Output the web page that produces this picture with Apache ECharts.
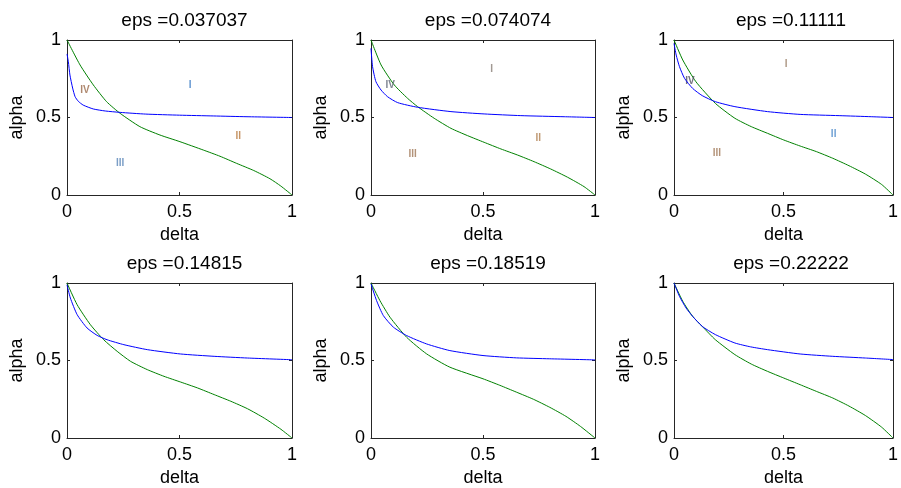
<!DOCTYPE html>
<html>
<head>
<meta charset="utf-8">
<script src="https://cdn.jsdelivr.net/npm/echarts@6/dist/echarts.min.js"></script>
<style>
  html, body { margin: 0; padding: 0; background: #fff; }
  #chart { width: 901px; height: 488px; }
</style>
</head>
<body>
<div id="chart"></div>
<script>
  // panel titles
  var epsLabels = ['0.037037', '0.074074', '0.11111', '0.14815', '0.18519', '0.22222'];

  // blue curves [delta, alpha]
  var blue1 = [[0, 0.91], [0.006, 0.86], [0.013, 0.774], [0.025, 0.69], [0.036, 0.634], [0.05, 0.605],
    [0.072, 0.58], [0.117, 0.555], [0.17, 0.542], [0.236, 0.533], [0.35, 0.522], [0.5, 0.515],
    [0.65, 0.51], [0.8, 0.505], [1, 0.5]];
  var blue2 = [[0, 0.946], [0.007, 0.828], [0.022, 0.731], [0.045, 0.677], [0.074, 0.634], [0.119, 0.596],
    [0.208, 0.566], [0.357, 0.538], [0.505, 0.523], [0.669, 0.512], [0.862, 0.505], [1, 0.5]];
  var blue3 = [[0, 0.978], [0.01, 0.903], [0.025, 0.828], [0.048, 0.753], [0.085, 0.688], [0.129, 0.641],
    [0.189, 0.602], [0.278, 0.57], [0.427, 0.538], [0.576, 0.52], [0.754, 0.512], [0.903, 0.505], [1, 0.5]];
  var blue4 = [[0, 0.989], [0.015, 0.903], [0.045, 0.796], [0.089, 0.71], [0.134, 0.662], [0.178, 0.634],
    [0.253, 0.602], [0.357, 0.57], [0.505, 0.542], [0.654, 0.527], [0.802, 0.516], [1, 0.505]];
  var blue5 = [[0, 0.994], [0.025, 0.886], [0.055, 0.79], [0.1, 0.715], [0.159, 0.661], [0.248, 0.607],
    [0.352, 0.564], [0.5, 0.532], [0.649, 0.517], [0.798, 0.511], [1, 0.504]];
  var blue6 = [[0, 1], [0.025, 0.914], [0.055, 0.839], [0.085, 0.785], [0.129, 0.72], [0.189, 0.667],
    [0.278, 0.613], [0.35, 0.588], [0.427, 0.57], [0.576, 0.542], [0.725, 0.527], [0.874, 0.516], [1, 0.506]];

  // green curves [delta, alpha]
  var green1 = [[0, 1], [0.058, 0.839], [0.117, 0.71], [0.176, 0.602], [0.236, 0.527], [0.324, 0.441],
    [0.413, 0.387], [0.502, 0.344], [0.606, 0.29], [0.68, 0.25], [0.754, 0.204], [0.83, 0.158],
    [0.902, 0.105], [0.95, 0.058], [1, 0]];
  var green2 = [[0, 1], [0.045, 0.839], [0.104, 0.71], [0.163, 0.624], [0.208, 0.57], [0.282, 0.495],
    [0.357, 0.43], [0.431, 0.383], [0.505, 0.34], [0.58, 0.297], [0.654, 0.258], [0.728, 0.215],
    [0.802, 0.168], [0.877, 0.115], [0.951, 0.054], [1, 0]];
  var green3 = [[0, 1], [0.04, 0.871], [0.1, 0.731], [0.189, 0.591], [0.278, 0.495], [0.353, 0.441],
    [0.427, 0.398], [0.501, 0.355], [0.576, 0.316], [0.65, 0.28], [0.725, 0.237], [0.799, 0.189],
    [0.874, 0.135], [0.948, 0.068], [1, 0]];
  var green4 = [[0, 1], [0.045, 0.86], [0.104, 0.731], [0.163, 0.634], [0.223, 0.559], [0.282, 0.495],
    [0.357, 0.441], [0.431, 0.398], [0.505, 0.361], [0.58, 0.323], [0.654, 0.28], [0.728, 0.237],
    [0.802, 0.189], [0.877, 0.128], [0.951, 0.056], [1, 0]];
  var green5 = [[0, 1], [0.04, 0.886], [0.085, 0.779], [0.159, 0.65], [0.248, 0.543], [0.352, 0.457],
    [0.5, 0.382], [0.575, 0.34], [0.649, 0.296], [0.725, 0.25], [0.798, 0.198], [0.87, 0.14],
    [0.935, 0.075], [1, 0]];
  var green6 = [[0, 1], [0.04, 0.882], [0.085, 0.785], [0.129, 0.72], [0.189, 0.634], [0.278, 0.538],
    [0.353, 0.477], [0.427, 0.43], [0.501, 0.387], [0.576, 0.344], [0.65, 0.301], [0.725, 0.258],
    [0.799, 0.206], [0.874, 0.145], [0.948, 0.07], [1, 0]];

  // region labels (only first row has them)
  var regionNames = ['I', 'II', 'III', 'IV'];
  var regions1 = [[0.547, 0.71], [0.761, 0.376], [0.236, 0.208], [0.08, 0.677]];
  var regions2 = [[0.539, 0.813], [0.747, 0.366], [0.186, 0.262], [0.086, 0.705]];
  var regions3 = [[0.512, 0.843], [0.729, 0.394], [0.196, 0.269], [0.073, 0.731]];

  var blues = [blue1, blue2, blue3, blue4, blue5, blue6];
  var greens = [green1, green2, green3, green4, green5, green6];
  var regions = [regions1, regions2, regions3, null, null, null];

  // layout / style
  var colLeft = [67, 371, 674];
  var colWidth = [225, 224, 224];
  var rowTop = [40, 283];
  var plotH = 155;
  var regionColors = [
    ['#3c7cc4', '#b87a40', '#5a86b8', '#9a6a4a'],
    ['#8a8078', '#b08050', '#a07858', '#606878'],
    ['#9a8068', '#4a88c8', '#a07858', '#505060']
  ];
  var FONT = 'Liberation Sans, Arial, sans-serif';

  var chart = echarts.init(document.getElementById('chart'));

  var grids = [], xAxes = [], yAxes = [], titles = [], series = [];
  var lineStyleAxis = { color: '#262626', width: 1 };

  for (var i = 0; i < 6; i++) {
    var c = i % 3, r = Math.floor(i / 3);
    grids.push({ left: colLeft[c], top: rowTop[r], width: colWidth[c], height: plotH });

    titles.push({
      text: 'eps =' + epsLabels[i],
      left: colLeft[c] + colWidth[c] / 2,
      top: rowTop[r] - 34,
      textAlign: 'center',
      textStyle: { fontFamily: FONT, fontSize: 19, fontWeight: 'normal', color: '#000' }
    });

    var base = {
      type: 'value', gridIndex: i, min: 0, max: 1, interval: 0.5,
      splitLine: { show: false },
      axisLine: { show: true, onZero: false, lineStyle: lineStyleAxis },
      axisTick: { show: true, inside: true, length: 3, lineStyle: lineStyleAxis }
    };
    xAxes.push(Object.assign({}, base, {
      position: 'bottom',
      name: 'delta', nameLocation: 'middle', nameGap: 31,
      nameTextStyle: { fontFamily: FONT, fontSize: 18, color: '#000' },
      axisLabel: { fontFamily: FONT, fontSize: 18, color: '#000', margin: 8 }
    }));
    xAxes.push(Object.assign({}, base, { position: 'top', axisLabel: { show: false } }));
    yAxes.push(Object.assign({}, base, {
      position: 'left',
      name: 'alpha', nameLocation: 'middle', nameGap: 41,
      nameTextStyle: { fontFamily: FONT, fontSize: 18, color: '#000' },
      axisLabel: { fontFamily: FONT, fontSize: 18, color: '#000', margin: 6 }
    }));
    yAxes.push(Object.assign({}, base, { position: 'right', axisLabel: { show: false } }));

    series.push({
      type: 'line', xAxisIndex: 2 * i, yAxisIndex: 2 * i, data: blues[i],
      showSymbol: false, smooth: 0.2,
      lineStyle: { color: '#0000ff', width: 1 }, silent: true, z: 3
    });
    series.push({
      type: 'line', xAxisIndex: 2 * i, yAxisIndex: 2 * i, data: greens[i],
      showSymbol: false, smooth: 0.2,
      lineStyle: { color: '#008000', width: 1 }, silent: true, z: 2
    });

    if (regions[i]) {
      series.push({
        type: 'scatter', xAxisIndex: 2 * i, yAxisIndex: 2 * i, symbolSize: 0, silent: true,
        data: regions[i].map(function (p, k) {
          return {
            value: p, name: regionNames[k],
            label: { color: regionColors[i][k] }
          };
        }),
        label: {
          show: true, position: 'inside', formatter: '{b}',
          fontFamily: FONT, fontSize: 10, fontWeight: 'bold'
        }
      });
    }
  }

  chart.setOption({
    animation: false,
    backgroundColor: '#fff',
    title: titles,
    grid: grids,
    xAxis: xAxes,
    yAxis: yAxes,
    series: series
  });
</script>
</body>
</html>
